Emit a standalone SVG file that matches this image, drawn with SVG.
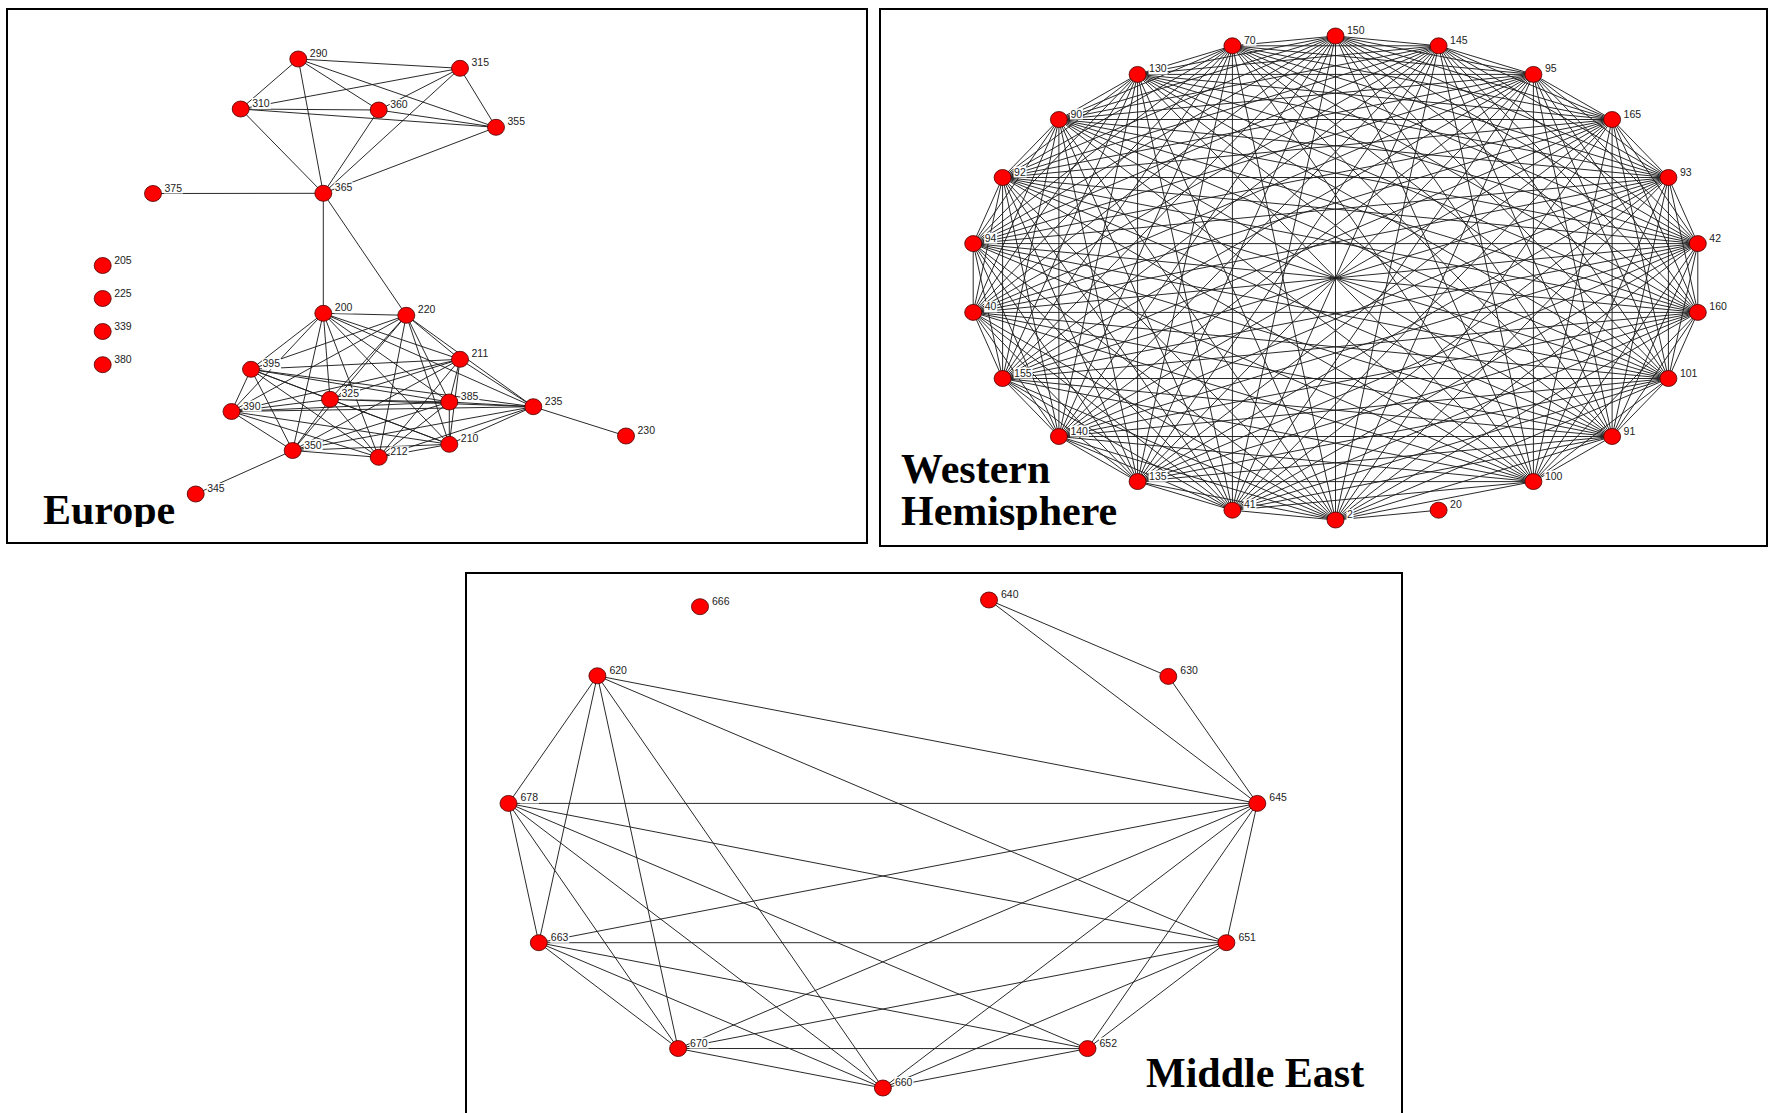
<svg xmlns="http://www.w3.org/2000/svg" width="1773" height="1113" viewBox="0 0 1773 1113">
<style>
.frame{fill:none;stroke:#000;stroke-width:2}
.e{fill:none;stroke:#1e1e1e;stroke-width:0.95}
.n ellipse{fill:#ff0000;stroke:#4a0000;stroke-width:0.8}
.n rect{fill:#fff}
.n text{font-family:"Liberation Sans",Arial,sans-serif;font-size:10.5px;fill:#222}
.title{font-family:"Liberation Serif","Times New Roman",serif;font-weight:bold;font-size:42px;fill:#000}
</style>
<defs>
<clipPath id="clip-eu-title"><rect x="30" y="440" width="220" height="87"/></clipPath>
<clipPath id="clip-wh-title"><rect x="890" y="430" width="320" height="100"/></clipPath>
</defs>
<rect width="1773" height="1113" fill="#fff"/>

<!-- panel frames -->
<g id="frames">
<rect class="frame" x="7" y="9" width="860" height="534"/>
<rect class="frame" x="880" y="9" width="887" height="537"/>
<rect class="frame" x="466" y="573" width="936" height="560"/>
</g>

<!-- panel titles -->
<g id="titles">
<g clip-path="url(#clip-eu-title)"><text class="title" x="43" y="524">Europe</text></g>
<g clip-path="url(#clip-wh-title)"><text class="title" x="901" y="483">Western</text><text class="title" x="901" y="525">Hemisphere</text></g>
<text class="title" x="1146" y="1087">Middle East</text>
</g>

<!-- connectors -->
<g id="connectors">
<!-- Europe: upper clique -->
<path class="e" d="M298.3 59L460 68.3M298.3 59L240.7 109M298.3 59L378.7 110M298.3 59L496 127.3M298.3 59L323.3 193.3"/>
<path class="e" d="M460 68.3L240.7 109M460 68.3L378.7 110M460 68.3L496 127.3M460 68.3L323.3 193.3"/>
<path class="e" d="M240.7 109L378.7 110M240.7 109L496 127.3M240.7 109L323.3 193.3"/>
<path class="e" d="M378.7 110L496 127.3M378.7 110L323.3 193.3"/>
<path class="e" d="M496 127.3L323.3 193.3"/>
<path class="e" d="M153 193.5L323.3 193.3M323.3 193.3L323.3 313.3M323.3 193.3L406.3 315.3M533.3 406.7L626 436M292.7 450.5L195.7 494"/>
<!-- Europe: lower clique -->
<path class="e" d="M323.3 313.3L406.3 315.3M323.3 313.3L460 359.3M323.3 313.3L251 369.3M323.3 313.3L330 399.3M323.3 313.3L449.3 402M323.3 313.3L231.5 411.5M323.3 313.3L533.3 406.7M323.3 313.3L292.7 450.5M323.3 313.3L378.7 457.3M323.3 313.3L449.3 444.3"/>
<path class="e" d="M406.3 315.3L460 359.3M406.3 315.3L251 369.3M406.3 315.3L330 399.3M406.3 315.3L449.3 402M406.3 315.3L231.5 411.5M406.3 315.3L533.3 406.7M406.3 315.3L292.7 450.5M406.3 315.3L378.7 457.3M406.3 315.3L449.3 444.3"/>
<path class="e" d="M460 359.3L251 369.3M460 359.3L330 399.3M460 359.3L449.3 402M460 359.3L231.5 411.5M460 359.3L533.3 406.7M460 359.3L292.7 450.5M460 359.3L378.7 457.3M460 359.3L449.3 444.3"/>
<path class="e" d="M251 369.3L330 399.3M251 369.3L449.3 402M251 369.3L231.5 411.5M251 369.3L533.3 406.7M251 369.3L292.7 450.5M251 369.3L378.7 457.3M251 369.3L449.3 444.3"/>
<path class="e" d="M330 399.3L449.3 402M330 399.3L231.5 411.5M330 399.3L533.3 406.7M330 399.3L292.7 450.5M330 399.3L378.7 457.3M330 399.3L449.3 444.3"/>
<path class="e" d="M449.3 402L231.5 411.5M449.3 402L533.3 406.7M449.3 402L292.7 450.5M449.3 402L378.7 457.3M449.3 402L449.3 444.3"/>
<path class="e" d="M231.5 411.5L533.3 406.7M231.5 411.5L292.7 450.5M231.5 411.5L378.7 457.3M231.5 411.5L449.3 444.3"/>
<path class="e" d="M533.3 406.7L292.7 450.5M533.3 406.7L378.7 457.3M533.3 406.7L449.3 444.3"/>
<path class="e" d="M292.7 450.5L378.7 457.3M292.7 450.5L449.3 444.3M378.7 457.3L449.3 444.3"/>

<!-- Western Hemisphere -->
<path class="e" d="M1335.5 36L1438.6 45.8M1335.5 36L1533.4 74.4M1335.5 36L1612.1 119.5M1335.5 36L1668.4 177.5M1335.5 36L1697.8 243.6M1335.5 36L1697.8 312.4M1335.5 36L1668.4 378.5M1335.5 36L1612.1 436.5M1335.5 36L1533.4 481.6M1335.5 36L1335.5 520M1335.5 36L1232.4 510.2M1335.5 36L1137.6 481.6M1335.5 36L1058.9 436.5M1335.5 36L1002.6 378.5M1335.5 36L973.2 312.4M1335.5 36L973.2 243.6M1335.5 36L1002.6 177.5M1335.5 36L1058.9 119.5M1335.5 36L1137.6 74.4M1335.5 36L1232.4 45.8"/>
<path class="e" d="M1438.6 45.8L1533.4 74.4M1438.6 45.8L1612.1 119.5M1438.6 45.8L1668.4 177.5M1438.6 45.8L1697.8 243.6M1438.6 45.8L1697.8 312.4M1438.6 45.8L1668.4 378.5M1438.6 45.8L1612.1 436.5M1438.6 45.8L1533.4 481.6M1438.6 45.8L1335.5 520M1438.6 45.8L1232.4 510.2M1438.6 45.8L1137.6 481.6M1438.6 45.8L1058.9 436.5M1438.6 45.8L1002.6 378.5M1438.6 45.8L973.2 312.4M1438.6 45.8L973.2 243.6M1438.6 45.8L1002.6 177.5M1438.6 45.8L1058.9 119.5M1438.6 45.8L1137.6 74.4M1438.6 45.8L1232.4 45.8"/>
<path class="e" d="M1533.4 74.4L1612.1 119.5M1533.4 74.4L1668.4 177.5M1533.4 74.4L1697.8 243.6M1533.4 74.4L1697.8 312.4M1533.4 74.4L1668.4 378.5M1533.4 74.4L1612.1 436.5M1533.4 74.4L1533.4 481.6M1533.4 74.4L1335.5 520M1533.4 74.4L1232.4 510.2M1533.4 74.4L1137.6 481.6M1533.4 74.4L1058.9 436.5M1533.4 74.4L1002.6 378.5M1533.4 74.4L973.2 312.4M1533.4 74.4L973.2 243.6M1533.4 74.4L1002.6 177.5M1533.4 74.4L1058.9 119.5M1533.4 74.4L1137.6 74.4M1533.4 74.4L1232.4 45.8"/>
<path class="e" d="M1612.1 119.5L1668.4 177.5M1612.1 119.5L1697.8 243.6M1612.1 119.5L1697.8 312.4M1612.1 119.5L1668.4 378.5M1612.1 119.5L1612.1 436.5M1612.1 119.5L1533.4 481.6M1612.1 119.5L1335.5 520M1612.1 119.5L1232.4 510.2M1612.1 119.5L1137.6 481.6M1612.1 119.5L1058.9 436.5M1612.1 119.5L1002.6 378.5M1612.1 119.5L973.2 312.4M1612.1 119.5L973.2 243.6M1612.1 119.5L1002.6 177.5M1612.1 119.5L1058.9 119.5M1612.1 119.5L1137.6 74.4M1612.1 119.5L1232.4 45.8"/>
<path class="e" d="M1668.4 177.5L1697.8 243.6M1668.4 177.5L1697.8 312.4M1668.4 177.5L1668.4 378.5M1668.4 177.5L1612.1 436.5M1668.4 177.5L1533.4 481.6M1668.4 177.5L1335.5 520M1668.4 177.5L1232.4 510.2M1668.4 177.5L1137.6 481.6M1668.4 177.5L1058.9 436.5M1668.4 177.5L1002.6 378.5M1668.4 177.5L973.2 312.4M1668.4 177.5L973.2 243.6M1668.4 177.5L1002.6 177.5M1668.4 177.5L1058.9 119.5M1668.4 177.5L1137.6 74.4M1668.4 177.5L1232.4 45.8"/>
<path class="e" d="M1697.8 243.6L1697.8 312.4M1697.8 243.6L1668.4 378.5M1697.8 243.6L1612.1 436.5M1697.8 243.6L1533.4 481.6M1697.8 243.6L1335.5 520M1697.8 243.6L1232.4 510.2M1697.8 243.6L1137.6 481.6M1697.8 243.6L1058.9 436.5M1697.8 243.6L1002.6 378.5M1697.8 243.6L973.2 312.4M1697.8 243.6L973.2 243.6M1697.8 243.6L1002.6 177.5M1697.8 243.6L1058.9 119.5M1697.8 243.6L1137.6 74.4M1697.8 243.6L1232.4 45.8"/>
<path class="e" d="M1697.8 312.4L1668.4 378.5M1697.8 312.4L1612.1 436.5M1697.8 312.4L1533.4 481.6M1697.8 312.4L1335.5 520M1697.8 312.4L1232.4 510.2M1697.8 312.4L1137.6 481.6M1697.8 312.4L1058.9 436.5M1697.8 312.4L1002.6 378.5M1697.8 312.4L973.2 312.4M1697.8 312.4L973.2 243.6M1697.8 312.4L1002.6 177.5M1697.8 312.4L1058.9 119.5M1697.8 312.4L1137.6 74.4M1697.8 312.4L1232.4 45.8"/>
<path class="e" d="M1668.4 378.5L1612.1 436.5M1668.4 378.5L1533.4 481.6M1668.4 378.5L1335.5 520M1668.4 378.5L1232.4 510.2M1668.4 378.5L1137.6 481.6M1668.4 378.5L1058.9 436.5M1668.4 378.5L1002.6 378.5M1668.4 378.5L973.2 312.4M1668.4 378.5L973.2 243.6M1668.4 378.5L1002.6 177.5M1668.4 378.5L1058.9 119.5M1668.4 378.5L1137.6 74.4M1668.4 378.5L1232.4 45.8"/>
<path class="e" d="M1612.1 436.5L1533.4 481.6M1612.1 436.5L1335.5 520M1612.1 436.5L1232.4 510.2M1612.1 436.5L1137.6 481.6M1612.1 436.5L1058.9 436.5M1612.1 436.5L1002.6 378.5M1612.1 436.5L973.2 312.4M1612.1 436.5L973.2 243.6M1612.1 436.5L1002.6 177.5M1612.1 436.5L1058.9 119.5M1612.1 436.5L1137.6 74.4M1612.1 436.5L1232.4 45.8"/>
<path class="e" d="M1533.4 481.6L1335.5 520M1533.4 481.6L1232.4 510.2M1533.4 481.6L1137.6 481.6M1533.4 481.6L1058.9 436.5M1533.4 481.6L1002.6 378.5M1533.4 481.6L973.2 312.4M1533.4 481.6L973.2 243.6M1533.4 481.6L1002.6 177.5M1533.4 481.6L1058.9 119.5M1533.4 481.6L1137.6 74.4M1533.4 481.6L1232.4 45.8"/>
<path class="e" d="M1438.6 510.2L1335.5 520"/>
<path class="e" d="M1335.5 520L1232.4 510.2M1335.5 520L1137.6 481.6M1335.5 520L1058.9 436.5M1335.5 520L1002.6 378.5M1335.5 520L973.2 312.4M1335.5 520L973.2 243.6M1335.5 520L1002.6 177.5M1335.5 520L1058.9 119.5M1335.5 520L1137.6 74.4M1335.5 520L1232.4 45.8"/>
<path class="e" d="M1232.4 510.2L1137.6 481.6M1232.4 510.2L1058.9 436.5M1232.4 510.2L1002.6 378.5M1232.4 510.2L973.2 312.4M1232.4 510.2L973.2 243.6M1232.4 510.2L1002.6 177.5M1232.4 510.2L1058.9 119.5M1232.4 510.2L1137.6 74.4M1232.4 510.2L1232.4 45.8"/>
<path class="e" d="M1137.6 481.6L1058.9 436.5M1137.6 481.6L1002.6 378.5M1137.6 481.6L973.2 312.4M1137.6 481.6L973.2 243.6M1137.6 481.6L1002.6 177.5M1137.6 481.6L1058.9 119.5M1137.6 481.6L1137.6 74.4M1137.6 481.6L1232.4 45.8"/>
<path class="e" d="M1058.9 436.5L1002.6 378.5M1058.9 436.5L973.2 312.4M1058.9 436.5L973.2 243.6M1058.9 436.5L1002.6 177.5M1058.9 436.5L1058.9 119.5M1058.9 436.5L1137.6 74.4M1058.9 436.5L1232.4 45.8"/>
<path class="e" d="M1002.6 378.5L973.2 312.4M1002.6 378.5L973.2 243.6M1002.6 378.5L1002.6 177.5M1002.6 378.5L1058.9 119.5M1002.6 378.5L1137.6 74.4M1002.6 378.5L1232.4 45.8"/>
<path class="e" d="M973.2 312.4L973.2 243.6M973.2 312.4L1002.6 177.5M973.2 312.4L1058.9 119.5M973.2 312.4L1137.6 74.4M973.2 312.4L1232.4 45.8"/>
<path class="e" d="M973.2 243.6L1002.6 177.5M973.2 243.6L1058.9 119.5M973.2 243.6L1137.6 74.4M973.2 243.6L1232.4 45.8"/>
<path class="e" d="M1002.6 177.5L1058.9 119.5M1002.6 177.5L1137.6 74.4M1002.6 177.5L1232.4 45.8"/>
<path class="e" d="M1058.9 119.5L1137.6 74.4M1058.9 119.5L1232.4 45.8M1137.6 74.4L1232.4 45.8"/>

<!-- Middle East -->
<path class="e" d="M989 600L1168.3 676.4M989 600L1257.3 803.4M1168.3 676.4L1257.3 803.4"/>
<path class="e" d="M597.4 675.8L508.5 803.4M597.4 675.8L538.8 942.7M597.4 675.8L678.1 1048.5M597.4 675.8L882.9 1088M597.4 675.8L1226.4 942.7M597.4 675.8L1257.3 803.4"/>
<path class="e" d="M508.5 803.4L1257.3 803.4M508.5 803.4L538.8 942.7M508.5 803.4L678.1 1048.5M508.5 803.4L882.9 1088M508.5 803.4L1087.5 1048.6M508.5 803.4L1226.4 942.7"/>
<path class="e" d="M538.8 942.7L1257.3 803.4M538.8 942.7L1226.4 942.7M538.8 942.7L678.1 1048.5M538.8 942.7L882.9 1088M538.8 942.7L1087.5 1048.6"/>
<path class="e" d="M1257.3 803.4L1226.4 942.7M1257.3 803.4L678.1 1048.5M1257.3 803.4L882.9 1088M1257.3 803.4L1087.5 1048.6"/>
<path class="e" d="M1226.4 942.7L678.1 1048.5M1226.4 942.7L882.9 1088M1226.4 942.7L1087.5 1048.6"/>
<path class="e" d="M678.1 1048.5L1087.5 1048.6M678.1 1048.5L882.9 1088M1087.5 1048.6L882.9 1088"/>
</g>

<!-- Europe nodes -->
<g id="eu-290" class="n"><ellipse cx="298.3" cy="59" rx="8.5" ry="8"/><rect x="309.3" y="48" width="19" height="11"/><text x="309.8" y="57">290</text></g>
<g id="eu-315" class="n"><ellipse cx="460" cy="68.3" rx="8.5" ry="8"/><rect x="471" y="57.3" width="19" height="11"/><text x="471.5" y="66.3">315</text></g>
<g id="eu-310" class="n"><ellipse cx="240.7" cy="109" rx="8.5" ry="8"/><rect x="251.7" y="98" width="19" height="11"/><text x="252.2" y="107">310</text></g>
<g id="eu-360" class="n"><ellipse cx="378.7" cy="110" rx="8.5" ry="8"/><rect x="389.7" y="99" width="19" height="11"/><text x="390.2" y="108">360</text></g>
<g id="eu-355" class="n"><ellipse cx="496" cy="127.3" rx="8.5" ry="8"/><rect x="507" y="116.3" width="19" height="11"/><text x="507.5" y="125.3">355</text></g>
<g id="eu-365" class="n"><ellipse cx="323.3" cy="193.3" rx="8.5" ry="8"/><rect x="334.3" y="182.3" width="19" height="11"/><text x="334.8" y="191.3">365</text></g>
<g id="eu-375" class="n"><ellipse cx="153" cy="193.5" rx="8.5" ry="8"/><rect x="164" y="182.5" width="19" height="11"/><text x="164.5" y="191.5">375</text></g>
<g id="eu-205" class="n"><ellipse cx="102.7" cy="265.5" rx="8.5" ry="8"/><rect x="113.7" y="254.5" width="19" height="11"/><text x="114.2" y="263.5">205</text></g>
<g id="eu-225" class="n"><ellipse cx="102.7" cy="298.5" rx="8.5" ry="8"/><rect x="113.7" y="287.5" width="19" height="11"/><text x="114.2" y="296.5">225</text></g>
<g id="eu-339" class="n"><ellipse cx="102.7" cy="331.5" rx="8.5" ry="8"/><rect x="113.7" y="320.5" width="19" height="11"/><text x="114.2" y="329.5">339</text></g>
<g id="eu-380" class="n"><ellipse cx="102.7" cy="364.7" rx="8.5" ry="8"/><rect x="113.7" y="353.7" width="19" height="11"/><text x="114.2" y="362.7">380</text></g>
<g id="eu-200" class="n"><ellipse cx="323.3" cy="313.3" rx="8.5" ry="8"/><rect x="334.3" y="302.3" width="19" height="11"/><text x="334.8" y="311.3">200</text></g>
<g id="eu-220" class="n"><ellipse cx="406.3" cy="315.3" rx="8.5" ry="8"/><rect x="417.3" y="304.3" width="19" height="11"/><text x="417.8" y="313.3">220</text></g>
<g id="eu-211" class="n"><ellipse cx="460" cy="359.3" rx="8.5" ry="8"/><rect x="471" y="348.3" width="19" height="11"/><text x="471.5" y="357.3">211</text></g>
<g id="eu-395" class="n"><ellipse cx="251" cy="369.3" rx="8.5" ry="8"/><rect x="262" y="358.3" width="19" height="11"/><text x="262.5" y="367.3">395</text></g>
<g id="eu-325" class="n"><ellipse cx="330" cy="399.3" rx="8.5" ry="8"/><rect x="341" y="388.3" width="19" height="11"/><text x="341.5" y="397.3">325</text></g>
<g id="eu-385" class="n"><ellipse cx="449.3" cy="402" rx="8.5" ry="8"/><rect x="460.3" y="391" width="19" height="11"/><text x="460.8" y="400">385</text></g>
<g id="eu-390" class="n"><ellipse cx="231.5" cy="411.5" rx="8.5" ry="8"/><rect x="242.5" y="400.5" width="19" height="11"/><text x="243" y="409.5">390</text></g>
<g id="eu-235" class="n"><ellipse cx="533.3" cy="406.7" rx="8.5" ry="8"/><rect x="544.3" y="395.7" width="19" height="11"/><text x="544.8" y="404.7">235</text></g>
<g id="eu-230" class="n"><ellipse cx="626" cy="436" rx="8.5" ry="8"/><rect x="637" y="425" width="19" height="11"/><text x="637.5" y="434">230</text></g>
<g id="eu-350" class="n"><ellipse cx="292.7" cy="450.5" rx="8.5" ry="8"/><rect x="303.7" y="439.5" width="19" height="11"/><text x="304.2" y="448.5">350</text></g>
<g id="eu-212" class="n"><ellipse cx="378.7" cy="457.3" rx="8.5" ry="8"/><rect x="389.7" y="446.3" width="19" height="11"/><text x="390.2" y="455.3">212</text></g>
<g id="eu-210" class="n"><ellipse cx="449.3" cy="444.3" rx="8.5" ry="8"/><rect x="460.3" y="433.3" width="19" height="11"/><text x="460.8" y="442.3">210</text></g>
<g id="eu-345" class="n"><ellipse cx="195.7" cy="494" rx="8.5" ry="8"/><rect x="206.7" y="483" width="19" height="11"/><text x="207.2" y="492">345</text></g>

<!-- Western Hemisphere nodes -->
<g id="wh-150" class="n"><ellipse cx="1335.5" cy="36" rx="8.5" ry="8"/><rect x="1346.5" y="25" width="19" height="11"/><text x="1347" y="34">150</text></g>
<g id="wh-145" class="n"><ellipse cx="1438.6" cy="45.8" rx="8.5" ry="8"/><rect x="1449.6" y="34.8" width="19" height="11"/><text x="1450.1" y="43.8">145</text></g>
<g id="wh-95" class="n"><ellipse cx="1533.4" cy="74.4" rx="8.5" ry="8"/><rect x="1544.4" y="63.4" width="13" height="11"/><text x="1544.9" y="72.4">95</text></g>
<g id="wh-165" class="n"><ellipse cx="1612.1" cy="119.5" rx="8.5" ry="8"/><rect x="1623.1" y="108.5" width="19" height="11"/><text x="1623.6" y="117.5">165</text></g>
<g id="wh-93" class="n"><ellipse cx="1668.4" cy="177.5" rx="8.5" ry="8"/><rect x="1679.4" y="166.5" width="13" height="11"/><text x="1679.9" y="175.5">93</text></g>
<g id="wh-42" class="n"><ellipse cx="1697.8" cy="243.6" rx="8.5" ry="8"/><rect x="1708.8" y="232.6" width="13" height="11"/><text x="1709.3" y="241.6">42</text></g>
<g id="wh-160" class="n"><ellipse cx="1697.8" cy="312.4" rx="8.5" ry="8"/><rect x="1708.8" y="301.4" width="19" height="11"/><text x="1709.3" y="310.4">160</text></g>
<g id="wh-101" class="n"><ellipse cx="1668.4" cy="378.5" rx="8.5" ry="8"/><rect x="1679.4" y="367.5" width="19" height="11"/><text x="1679.9" y="376.5">101</text></g>
<g id="wh-91" class="n"><ellipse cx="1612.1" cy="436.5" rx="8.5" ry="8"/><rect x="1623.1" y="425.5" width="13" height="11"/><text x="1623.6" y="434.5">91</text></g>
<g id="wh-100" class="n"><ellipse cx="1533.4" cy="481.6" rx="8.5" ry="8"/><rect x="1544.4" y="470.6" width="19" height="11"/><text x="1544.9" y="479.6">100</text></g>
<g id="wh-20" class="n"><ellipse cx="1438.6" cy="510.2" rx="8.5" ry="8"/><rect x="1449.6" y="499.2" width="13" height="11"/><text x="1450.1" y="508.2">20</text></g>
<g id="wh-2" class="n"><ellipse cx="1335.5" cy="520" rx="8.5" ry="8"/><rect x="1346.5" y="509" width="7" height="11"/><text x="1347" y="518">2</text></g>
<g id="wh-41" class="n"><ellipse cx="1232.4" cy="510.2" rx="8.5" ry="8"/><rect x="1243.4" y="499.2" width="13" height="11"/><text x="1243.9" y="508.2">41</text></g>
<g id="wh-135" class="n"><ellipse cx="1137.6" cy="481.6" rx="8.5" ry="8"/><rect x="1148.6" y="470.6" width="19" height="11"/><text x="1149.1" y="479.6">135</text></g>
<g id="wh-140" class="n"><ellipse cx="1058.9" cy="436.5" rx="8.5" ry="8"/><rect x="1069.9" y="425.5" width="19" height="11"/><text x="1070.4" y="434.5">140</text></g>
<g id="wh-155" class="n"><ellipse cx="1002.6" cy="378.5" rx="8.5" ry="8"/><rect x="1013.6" y="367.5" width="19" height="11"/><text x="1014.1" y="376.5">155</text></g>
<g id="wh-40" class="n"><ellipse cx="973.2" cy="312.4" rx="8.5" ry="8"/><rect x="984.2" y="301.4" width="13" height="11"/><text x="984.7" y="310.4">40</text></g>
<g id="wh-94" class="n"><ellipse cx="973.2" cy="243.6" rx="8.5" ry="8"/><rect x="984.2" y="232.6" width="13" height="11"/><text x="984.7" y="241.6">94</text></g>
<g id="wh-92" class="n"><ellipse cx="1002.6" cy="177.5" rx="8.5" ry="8"/><rect x="1013.6" y="166.5" width="13" height="11"/><text x="1014.1" y="175.5">92</text></g>
<g id="wh-90" class="n"><ellipse cx="1058.9" cy="119.5" rx="8.5" ry="8"/><rect x="1069.9" y="108.5" width="13" height="11"/><text x="1070.4" y="117.5">90</text></g>
<g id="wh-130" class="n"><ellipse cx="1137.6" cy="74.4" rx="8.5" ry="8"/><rect x="1148.6" y="63.4" width="19" height="11"/><text x="1149.1" y="72.4">130</text></g>
<g id="wh-70" class="n"><ellipse cx="1232.4" cy="45.8" rx="8.5" ry="8"/><rect x="1243.4" y="34.8" width="13" height="11"/><text x="1243.9" y="43.8">70</text></g>

<!-- Middle East nodes -->
<g id="me-666" class="n"><ellipse cx="700" cy="606.7" rx="8.5" ry="8"/><rect x="711.5" y="595.7" width="19" height="11"/><text x="712" y="604.7">666</text></g>
<g id="me-640" class="n"><ellipse cx="989" cy="600" rx="8.5" ry="8"/><rect x="1000.5" y="589" width="19" height="11"/><text x="1001" y="598">640</text></g>
<g id="me-630" class="n"><ellipse cx="1168.3" cy="676.4" rx="8.5" ry="8"/><rect x="1179.8" y="665.4" width="19" height="11"/><text x="1180.3" y="674.4">630</text></g>
<g id="me-620" class="n"><ellipse cx="597.4" cy="675.8" rx="8.5" ry="8"/><rect x="608.9" y="664.8" width="19" height="11"/><text x="609.4" y="673.8">620</text></g>
<g id="me-678" class="n"><ellipse cx="508.5" cy="803.4" rx="8.5" ry="8"/><rect x="520" y="792.4" width="19" height="11"/><text x="520.5" y="801.4">678</text></g>
<g id="me-645" class="n"><ellipse cx="1257.3" cy="803.4" rx="8.5" ry="8"/><rect x="1268.8" y="792.4" width="19" height="11"/><text x="1269.3" y="801.4">645</text></g>
<g id="me-663" class="n"><ellipse cx="538.8" cy="942.7" rx="8.5" ry="8"/><rect x="550.3" y="931.7" width="19" height="11"/><text x="550.8" y="940.7">663</text></g>
<g id="me-651" class="n"><ellipse cx="1226.4" cy="942.7" rx="8.5" ry="8"/><rect x="1237.9" y="931.7" width="19" height="11"/><text x="1238.4" y="940.7">651</text></g>
<g id="me-670" class="n"><ellipse cx="678.1" cy="1048.5" rx="8.5" ry="8"/><rect x="689.6" y="1037.5" width="19" height="11"/><text x="690.1" y="1046.5">670</text></g>
<g id="me-652" class="n"><ellipse cx="1087.5" cy="1048.6" rx="8.5" ry="8"/><rect x="1099" y="1037.6" width="19" height="11"/><text x="1099.5" y="1046.6">652</text></g>
<g id="me-660" class="n"><ellipse cx="882.9" cy="1088" rx="8.5" ry="8"/><rect x="894.4" y="1077" width="19" height="11"/><text x="894.9" y="1086">660</text></g>
</svg>
